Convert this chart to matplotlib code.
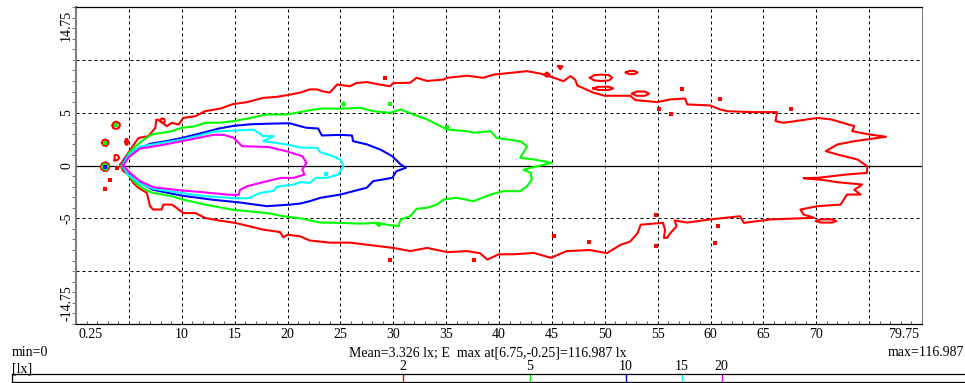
import matplotlib
matplotlib.use("Agg")
import matplotlib.pyplot as plt
import matplotlib.transforms as mtransforms
from matplotlib.ticker import MultipleLocator

plt.rcParams['font.family'] = ['Liberation Serif', 'DejaVu Serif']

# isolux levels [lx] and their colours
levels = [2, 5, 10, 15, 20]
level_colors = ['#ff0000', '#00ff00', '#0000ff', '#00ffff', '#ff00ff']
E_min, E_mean, E_max = 0, 3.326, 116.987
E_max_at = (6.75, -0.25)

# main isolux outlines, (x, y) in m
iso_2 = [(4.2, 0.1), (4.95, 1.2), (5.6, 2.15), (5.9, 2.6), (6.85, 2.78), (7.5, 3.57), (7.6, 4.35),
         (7.8, 4.3), (8.6, 3.72), (9.05, 4.04), (9.7, 3.88), (10.15, 4.5), (11.3, 4.67),
         (12.2, 5.14), (13.7, 5.4), (14.8, 5.8), (16.2, 6.0), (17.7, 6.4), (19.0, 6.5), (20.2, 6.7),
         (21.2, 6.9), (22.1, 7.2), (22.8, 7.2), (23.4, 7.0), (24.0, 6.9), (24.7, 7.67), (25.9, 7.5),
         (26.5, 7.8), (27.5, 7.9), (28.5, 7.7), (29.7, 7.5), (30.0, 7.8), (31.6, 7.83), (32.2, 8.3),
         (33.2, 8.0), (34.8, 8.14), (35.1, 8.3), (37.0, 8.5), (38.5, 8.3), (39.5, 8.6), (41.4, 8.8),
         (42.65, 8.93), (43.9, 8.7), (45.2, 8.3), (46.1, 7.98), (46.75, 8.46), (47.2, 8.14),
         (47.4, 7.58), (47.9, 7.35), (48.9, 6.9), (50.0, 6.6), (52.4, 6.6), (52.9, 6.19),
         (54.95, 6.0), (56.2, 6.25), (57.6, 6.34), (57.8, 5.78), (60.0, 5.68), (60.9, 5.3),
         (61.6, 5.14), (64.0, 5.05), (66.3, 5.05), (66.15, 4.2), (66.9, 4.04), (70.1, 4.5),
         (71.4, 4.36), (73.6, 3.72), (73.4, 3.25), (75.0, 2.94), (76.6, 2.72), (73.6, 2.3),
         (72.0, 1.99), (70.9, 1.36), (72.0, 1.04), (73.9, 0.57), (74.8, -0.06), (74.8, -0.7),
         (72.9, -0.85), (70.1, -1.17), (68.8, -1.2), (70.5, -1.35), (72.0, -1.58), (74.35, -1.8),
         (73.6, -2.3), (74.2, -2.75), (72.9, -2.75), (72.3, -3.7), (70.1, -3.85), (68.5, -4.17),
         (68.8, -4.64), (69.8, -4.95), (65.7, -5.1), (63.15, -5.43), (62.8, -4.8), (60.0, -5.1),
         (57.8, -5.4), (56.6, -5.2), (56.8, -5.75), (56.2, -6.4), (55.9, -6.85), (55.6, -6.85),
         (55.7, -6.06), (55.5, -5.43), (53.4, -5.6), (53.1, -6.4), (52.4, -7.2), (51.5, -7.5),
         (50.2, -8.3), (48.6, -8.0), (46.4, -8.1), (44.9, -8.74), (43.3, -8.27), (41.4, -8.4),
         (40.0, -8.4), (38.9, -8.9), (38.2, -8.3), (37.0, -8.1), (35.1, -8.2), (33.2, -7.8),
         (31.6, -8.1), (30.0, -7.8), (27.5, -7.5), (25.9, -7.3), (24.0, -7.3), (22.1, -7.1),
         (21.2, -6.7), (20.0, -6.55), (19.6, -6.8), (19.3, -6.3), (17.7, -6.07), (15.1, -5.44),
         (13.5, -5.2), (12.2, -4.96), (11.3, -4.5), (10.15, -4.5), (9.5, -4.0), (9.05, -3.7),
         (8.26, -3.7), (8.1, -4.17), (7.3, -4.17), (7.0, -3.85), (6.7, -2.6), (5.9, -2.1),
         (5.4, -1.64), (4.95, -0.85), (4.45, -0.5), (4.2, 0.1)]

iso_5 = [(4.3, 0.0), (4.8, 0.88), (5.27, 1.5), (6.2, 2.3), (7.16, 2.94), (9.05, 3.25),
         (10.0, 3.57), (11.2, 3.7), (12.2, 4.04), (13.6, 4.05), (14.9, 4.2), (16.5, 4.5),
         (18.05, 4.83), (19.9, 4.83), (21.2, 5.05), (22.5, 5.3), (23.4, 5.4), (25.0, 5.37),
         (26.9, 5.46), (28.1, 5.14), (29.7, 4.99), (30.7, 5.3), (31.9, 4.83), (33.2, 4.36),
         (35.1, 3.4), (37.0, 3.25), (37.6, 3.1), (39.2, 3.25), (39.8, 2.6), (42.0, 2.3),
         (42.65, 1.83), (42.3, 1.2), (42.0, 0.73), (43.3, 0.57), (45.0, 0.25), (43.0, -0.22),
         (42.3, -0.4), (43.0, -0.7), (43.1, -1.33), (42.65, -1.96), (42.0, -2.43), (40.4, -2.43),
         (39.2, -2.75), (37.6, -3.38), (36.0, -3.06), (34.8, -3.2), (34.1, -3.7), (33.2, -4.0),
         (32.2, -4.1), (31.6, -4.8), (30.7, -5.1), (30.5, -5.75), (29.4, -5.6), (28.5, -5.43),
         (26.9, -5.5), (25.0, -5.43), (23.1, -5.4), (21.2, -5.0), (19.6, -4.8), (18.05, -4.5),
         (14.9, -4.2), (12.2, -3.7), (10.0, -3.2), (9.05, -2.9), (7.3, -2.6), (6.5, -2.27),
         (5.6, -1.64), (4.9, -0.85), (4.3, 0.0)]

iso_10 = [(4.4, 0.0), (4.6, 0.57), (5.4, 1.36), (7.0, 2.05), (8.5, 2.3), (10.0, 2.6), (12.2, 3.15),
          (13.5, 3.5), (14.9, 3.75), (16.5, 3.9), (18.0, 3.95), (20.2, 4.0), (21.2, 3.72),
          (21.8, 3.57), (22.9, 3.5), (23.25, 2.84), (25.0, 2.9), (26.1, 2.84), (26.2, 2.3),
          (27.5, 2.0), (28.8, 1.5), (29.9, 0.88), (30.7, 0.1), (31.2, -0.22), (30.3, -0.54),
          (29.9, -1.17), (28.1, -1.48), (27.5, -2.1), (25.0, -2.75), (23.1, -3.06), (22.1, -3.38),
          (21.2, -3.6), (20.25, -3.7), (18.05, -3.85), (15.5, -3.5), (13.0, -3.25), (10.0, -2.85),
          (7.3, -2.3), (5.75, -1.5), (4.8, -0.7), (4.4, 0.0)]

iso_15 = [(4.4, 0.0), (4.7, 0.6), (5.2, 1.2), (6.06, 1.8), (7.3, 2.0), (8.2, 2.15), (10.0, 2.45),
          (11.5, 2.8), (13.0, 3.2), (14.9, 3.3), (16.8, 3.4), (17.7, 2.78), (18.7, 2.78),
          (17.7, 2.3), (19.9, 2.0), (21.2, 1.7), (22.8, 1.67), (23.1, 1.26), (24.3, 0.88),
          (25.0, 0.57), (25.3, -0.06), (24.8, -0.85), (23.7, -1.17), (22.7, -1.17), (22.1, -1.64),
          (21.2, -1.58), (20.6, -1.8), (19.0, -2.0), (18.7, -2.4), (17.4, -2.6), (16.3, -3.1),
          (14.9, -3.1), (11.7, -2.85), (10.0, -2.6), (7.3, -2.2), (6.06, -1.7), (4.9, -0.85),
          (4.4, 0.0)]

iso_20 = [(4.45, 0.0), (5.0, 0.8), (6.06, 1.6), (8.2, 1.95), (10.0, 2.3), (11.5, 2.6),
          (13.0, 2.9), (14.0, 2.9), (14.9, 2.62), (15.7, 1.83), (18.2, 1.75), (19.9, 1.35),
          (21.4, 0.88), (21.8, 0.25), (21.4, -0.38), (21.6, -0.85), (20.6, -1.17), (19.4, -1.17),
          (18.0, -1.5), (16.2, -1.96), (15.5, -2.3), (15.4, -2.78), (14.6, -2.78), (11.7, -2.5),
          (9.85, -2.35), (7.3, -2.05), (6.1, -1.5), (5.1, -0.7), (4.45, 0.0)]

# small closed islands per level
islands_2 = [
    [(2.36, -0.13), (2.48, 0.2), (2.78, 0.3), (3.08, 0.15), (3.14, -0.2), (2.96, -0.48), (2.68, -0.52), (2.43, -0.38), (2.36, -0.13)],
    [(3.45, 3.79), (3.55, 4.06), (3.8, 4.16), (4.1, 4.01), (4.15, 3.76), (4.0, 3.51), (3.75, 3.46), (3.5, 3.56), (3.45, 3.79)],
    [(2.45, 2.15), (2.55, 2.4), (2.8, 2.45), (3.05, 2.3), (3.05, 2.05), (2.85, 1.85), (2.6, 1.9), (2.45, 2.15)],
    [(4.67, 2.24), (4.71, 2.5), (4.86, 2.5), (4.93, 2.24), (4.86, 1.98), (4.71, 1.98), (4.67, 2.24)],
    [(3.65, 0.5), (3.65, 0.98), (3.9, 0.98), (4.1, 0.73), (3.9, 0.5), (3.65, 0.5)],
    [(7.95, 4.25), (8.1, 4.45), (8.35, 4.4), (8.4, 4.15), (8.15, 4.05), (7.95, 4.25)],
    [(44.3, 8.6), (44.5, 8.8), (44.8, 8.6), (44.5, 8.4), (44.3, 8.6)],
    [(45.6, 9.4), (46.0, 9.4), (45.8, 9.1), (45.6, 9.4)],
    [(48.6, 8.3), (49.0, 8.55), (49.7, 8.6), (50.4, 8.55), (50.7, 8.3), (50.4, 8.05), (49.7, 8.0), (49.0, 8.05), (48.6, 8.3)],
    [(52.0, 8.8), (52.3, 8.95), (52.8, 8.95), (53.1, 8.8), (52.8, 8.65), (52.3, 8.65), (52.0, 8.8)],
    [(48.9, 7.3), (49.4, 7.45), (50.4, 7.45), (50.8, 7.3), (50.4, 7.15), (49.4, 7.15), (48.9, 7.3)],
    [(52.6, 6.8), (53.0, 7.0), (53.8, 7.0), (54.2, 6.8), (53.8, 6.6), (53.0, 6.6), (52.6, 6.8)],
    [(70.0, -5.25), (70.4, -5.1), (71.5, -5.1), (71.9, -5.25), (71.5, -5.4), (70.4, -5.4), (70.0, -5.25)],
]
islands_5 = [
    [(2.5, -0.13), (2.58, 0.08), (2.78, 0.13), (2.98, 0.03), (3.01, -0.17), (2.88, -0.37), (2.68, -0.37), (2.53, -0.27), (2.5, -0.13)],
    [(25.2, 5.8), (25.3, 6.0), (25.4, 5.8), (25.3, 5.6), (25.2, 5.8)],
    [(28.5, -5.55), (28.65, -5.4), (28.8, -5.55), (28.65, -5.75), (28.5, -5.55)],
]

# isolated dots (single grid cells) per level
dots_2_x = [3.85, 3.2, 2.74, 29.2, 57.3, 60.9, 67.6, 55.1, 56.3, 48.5, 54.8, 54.8, 60.7, 60.4, 45.2, 37.6, 29.7]
dots_2_y = [-0.28, -1.33, -2.27, 8.3, 7.27, 6.25, 5.3, 5.3, 4.85, -7.26, -4.73, -7.6, -5.75, -7.3, -6.7, -8.95, -8.9]
dots_5_x = [3.79, 2.74, 29.7, 35.1]
dots_5_y = [3.79, 2.15, 5.8, 3.6]
dots_10_x = [2.76]
dots_10_y = [-0.15]
dots_15_x = [23.65]
dots_15_y = [-0.76]

outlines = [iso_2, iso_5, iso_10, iso_15, iso_20]
islands = [islands_2, islands_5, [], [], []]
dots = [(dots_2_x, dots_2_y), (dots_5_x, dots_5_y), (dots_10_x, dots_10_y), (dots_15_x, dots_15_y), ([], [])]

W, H = 965, 383
fig = plt.figure(figsize=(W / 100, H / 100), dpi=100)
ax = fig.add_axes([76 / W, 59 / H, 846 / W, 317 / H])
ax.set_xlim(0, 80)
ax.set_ylim(-15, 15)

for gx in range(5, 80, 5):
    ax.axvline(gx, color='black', lw=0.72, ls=(0, (3, 3)), zorder=1)
for gy in (-10, -5, 5, 10):
    ax.axhline(gy, color='black', lw=0.72, ls=(0, (3, 3)), zorder=1)
ax.axhline(0, color='black', lw=0.9, zorder=1)

for i, color in enumerate(level_colors):
    xs, ys = zip(*outlines[i])
    ax.plot(xs, ys, color=color, lw=1.5, zorder=3 + i)
    for isl in islands[i]:
        ix, iy = zip(*isl)
        ax.plot(ix, iy, color=color, lw=1.5, zorder=3 + i)
    dx, dy = dots[i]
    ax.plot(dx, dy, ls='none', marker='s', ms=2.4, mew=0, color=color, zorder=3 + i)

xticks = [0.25, 10, 15, 20, 25, 30, 35, 40, 45, 50, 55, 60, 65, 70, 79.75]
ax.set_xticks(xticks)
ax.set_xticklabels(['0.25', '10', '15', '20', '25', '30', '35', '40', '45', '50', '55', '60', '65', '70', '79.75'])
xl = ax.get_xticklabels()
xl[0].set_ha('left')
xl[-1].set_ha('right')
ax.xaxis.set_minor_locator(MultipleLocator(1))
ax.tick_params(axis='x', which='major', length=0, pad=3, labelsize=10)
ax.tick_params(axis='x', which='minor', direction='in', length=2.5, color='#404040')

yticks = [-14.75, -5, 0, 5, 14.75]
ax.set_yticks(yticks)
ax.set_yticklabels(['-14.75', '-5', '0', '5', '14.75'], rotation=90)
yl = ax.get_yticklabels()
for lbl, va in zip(yl, ['bottom', 'center', 'center', 'center', 'top']):
    lbl.set_va(va)
ax.yaxis.set_minor_locator(MultipleLocator(1))
ax.tick_params(axis='y', which='major', length=0, pad=2, labelsize=10)
ax.tick_params(axis='y', which='minor', direction='out', length=3, color='#606060')

ax.spines['left'].set_color('#808080')
ax.spines['left'].set_linewidth(1.5)
ax.spines['right'].set_color('#808080')
for s in ('top', 'bottom'):
    ax.spines[s].set_linewidth(0.9)

# footer texts
fig.text(12 / W, 1 - 353 / H, 'min=%g' % E_min, ha='left', va='center', fontsize=10)
fig.text(488 / W, 1 - 353 / H,
         'Mean=%.3f lx; E  max at[%g,%g]=%.3f lx' % (E_mean, E_max_at[0], E_max_at[1], E_max),
         ha='center', va='center', fontsize=10)
fig.text(964 / W, 1 - 353 / H, 'max=%.3f' % E_max, ha='right', va='center', fontsize=10)
fig.text(12 / W, 1 - 369 / H, '[lx]', ha='left', va='center', fontsize=10)

# log colour-scale strip
scale_lo = 0.118
sax = fig.add_axes([12 / W, 1 / H, 954 / W, 8 / H])
sax.set_xscale('log')
sax.set_xlim(scale_lo, E_max)
sax.set_ylim(0, 1)
sax.set_xticks([])
sax.set_yticks([])
sax.minorticks_off()
sax.spines['right'].set_visible(False)
for s in ('top', 'bottom', 'left'):
    sax.spines[s].set_linewidth(0.9)
sax.vlines(levels, 0, 1, colors=level_colors, lw=1)
trans = mtransforms.blended_transform_factory(sax.transData, sax.transAxes)
for lv in levels:
    sax.text(lv, 1.15, str(lv), transform=trans, ha='center', va='bottom', fontsize=10)

fig.savefig('out.png', dpi=100)
